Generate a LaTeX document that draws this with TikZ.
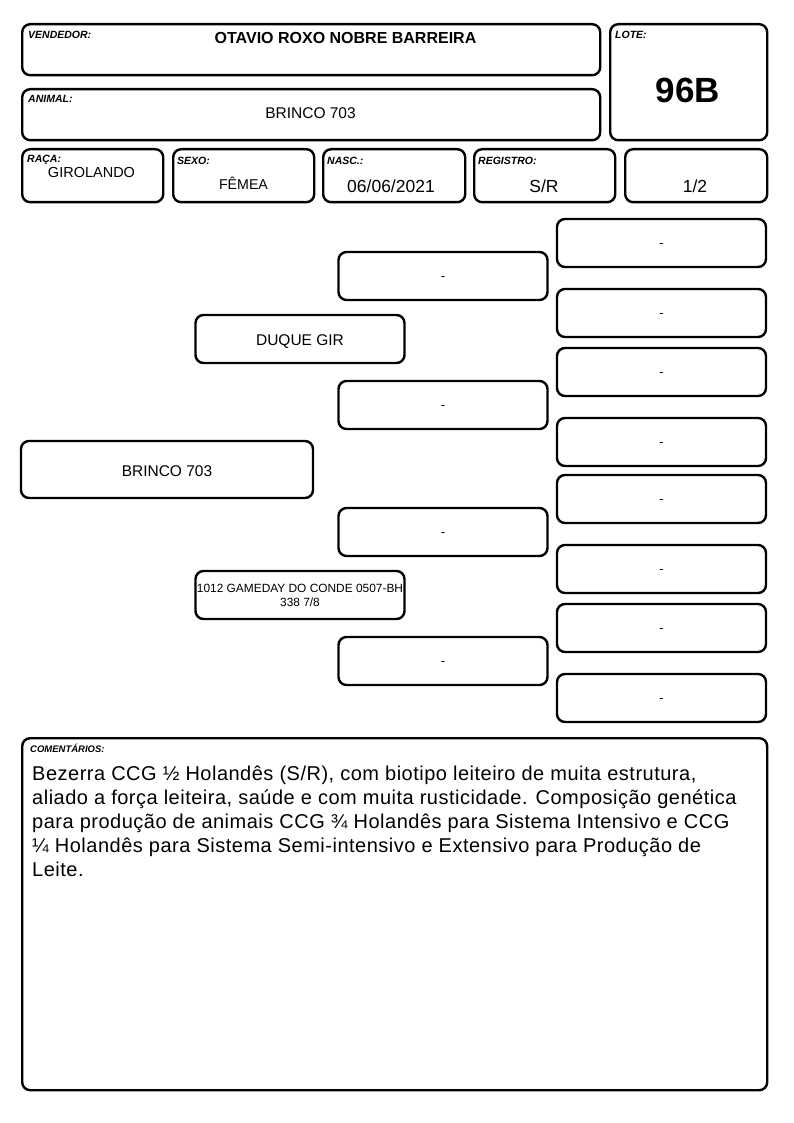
\documentclass[tikz,border=0pt]{standalone}
\usepackage{fontspec}
\setmainfont{Liberation Sans}
\begin{document}
\begin{tikzpicture}[x=1pt,y=-1pt,
  rbox/.style={draw=black, line width=2.4pt, rounded corners=8pt, inner sep=0pt, fill=white},
  lbl/.style={font=\fontsize{10.5}{12}\selectfont\bfseries\itshape, anchor=base west, inner sep=0pt},
  val/.style={font=\fontsize{15.5}{18}\selectfont, anchor=base, inner sep=0pt},
  big/.style={font=\fontsize{17.5}{20}\selectfont, anchor=base, inner sep=0pt},
  ped/.style={rbox, minimum width=209pt, minimum height=48pt, font=\fontsize{13}{15}\selectfont, text height=9.2pt, text depth=0pt},
  ped2/.style={rbox, minimum width=209pt, minimum height=48pt, font=\fontsize{15.5}{18}\selectfont, text height=13pt, text depth=0pt}]
\useasboundingbox[fill=white] (0,0) rectangle (794,1123);
% header boxes
\node[rbox, anchor=north west, minimum width=578pt, minimum height=51pt] (vend) at (21,23) {};
\node[rbox, anchor=north west, minimum width=578pt, minimum height=51pt] (anim) at (21,88) {};
\node[rbox, anchor=north west, minimum width=157pt, minimum height=116pt] (lote) at (609,23) {};
\node[rbox, anchor=north west, minimum width=141pt, minimum height=53pt] (raca) at (21,148) {};
\node[rbox, anchor=north west, minimum width=141pt, minimum height=53pt] (sexo) at (172,148) {};
\node[rbox, anchor=north west, minimum width=142pt, minimum height=53pt] (nasc) at (322,148) {};
\node[rbox, anchor=north west, minimum width=141pt, minimum height=53pt] (reg) at (473,148) {};
\node[rbox, anchor=north west, minimum width=142pt, minimum height=53pt] (frac) at (624,148) {};
% header texts
\node[lbl] (tvend) at (28,39) {VENDEDOR:};
\node[anchor=base, inner sep=0pt, font=\fontsize{16}{19}\selectfont\bfseries] (nvend) at (345.5,43.5) {OTAVIO ROXO NOBRE BARREIRA};
\node[lbl] (tanim) at (28,103) {ANIMAL:};
\node[val] (nanim) at (310.5,119) {BRINCO 703};
\node[lbl] (tlote) at (615,39) {LOTE:};
\node[anchor=base, inner sep=0pt, font=\fontsize{35}{40}\selectfont\bfseries] (nlote) at (688,102.5) {96B};
\node[lbl] (traca) at (27,163) {RAÇA:};
\node[anchor=base, inner sep=0pt, font=\fontsize{14.5}{17}\selectfont] (nraca) at (91.5,178) {GIROLANDO};
\node[lbl] (tsexo) at (177,165) {SEXO:};
\node[anchor=base, inner sep=0pt, font=\fontsize{14.2}{17}\selectfont] (nsexo) at (243.5,190) {FÊMEA};
\node[lbl] (tnasc) at (327,165) {NASC.:};
\node[big] (nnasc) at (391,193) {06/06/2021};
\node[lbl] (treg) at (478,165) {REGISTRO:};
\node[big] (nreg) at (544,193) {S/R};
\node[big] (nfrac) at (695,193) {1/2};
% pedigree: right column
\node[ped] (r1) at (661.5,243) {-};
\node[ped] (r2) at (661.5,313) {-};
\node[ped] (r3) at (661.5,372) {-};
\node[ped] (r4) at (661.5,442) {-};
\node[ped] (r5) at (661.5,499) {-};
\node[ped] (r6) at (661.5,569) {-};
\node[ped] (r7) at (661.5,628) {-};
\node[ped] (r8) at (661.5,698) {-};
% middle column
\node[ped] (m1) at (443,276) {-};
\node[ped] (m2) at (443,405) {-};
\node[ped] (m3) at (443,532) {-};
\node[ped] (m4) at (443,661) {-};
% parents
\node[ped2] (sire) at (300,339) {DUQUE GIR};
\node[rbox, minimum width=209pt, minimum height=48pt, align=center, font=\fontsize{11.9}{14}\selectfont] (dam) at (300,595) {1012 GAMEDAY DO CONDE 0507-BH\\338 7/8};
% animal
\node[rbox, minimum width=292pt, minimum height=57pt, font=\fontsize{15.5}{18}\selectfont, text height=13pt, text depth=0pt] (self) at (167,469.5) {BRINCO 703};
% comments
\node[rbox, anchor=north west, minimum width=745pt, minimum height=352pt] (com) at (21,737) {};
\node[lbl, font=\fontsize{9.5}{11}\selectfont\bfseries\itshape] (tcom) at (30,752) {COMENTÁRIOS:};
\node[anchor=north west, inner sep=0pt, align=left, font=\fontsize{20}{24}\selectfont\addfontfeature{LetterSpace=2.5}] (ncom) at (32,766) {Bezerra CCG ½ Holandês (S/R), com biotipo leiteiro de muita estrutura,\\aliado a força leiteira, saúde e com muita rusticidade. Composição genética\\para produção de animais CCG ¾ Holandês para Sistema Intensivo e CCG\\¼ Holandês para Sistema Semi-intensivo e Extensivo para Produção de\\Leite.};
\end{tikzpicture}
\end{document}
